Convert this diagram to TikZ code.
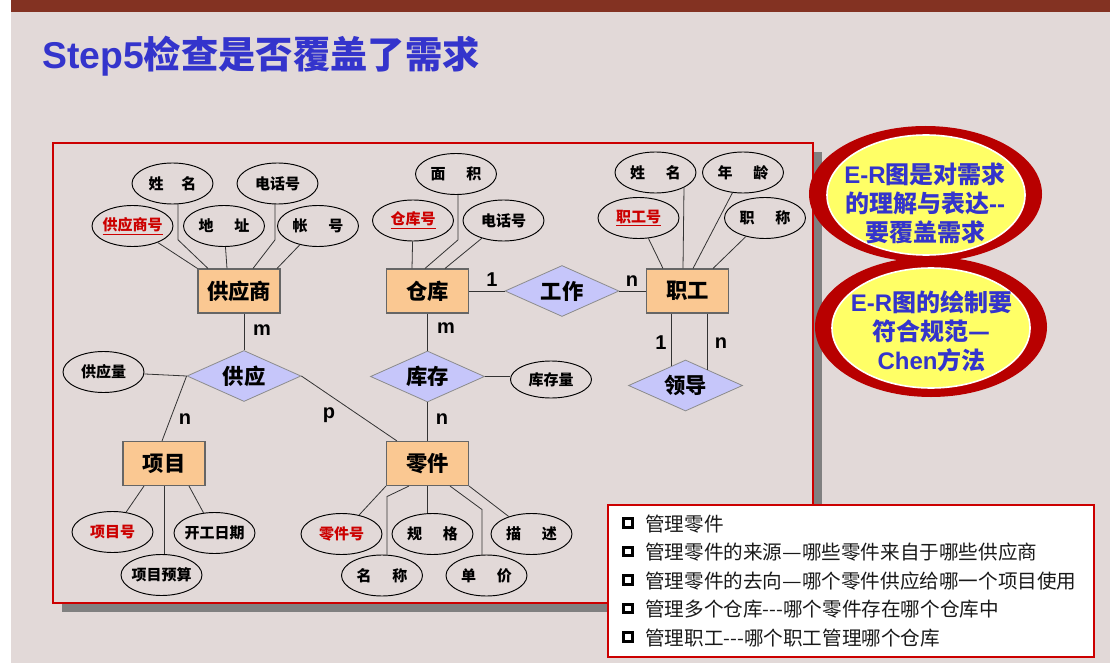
\documentclass[tikz,border=0pt]{standalone}
\usepackage{fontspec}
\setmainfont{Liberation Sans}
\newfontfamily\cjk{Noto Sans CJK SC}
\newfontfamily\lat{Liberation Sans}
\usetikzlibrary{shapes.geometric,calc}

\definecolor{topbar}{RGB}{131,50,34}
\definecolor{bgpaper}{RGB}{226,217,216}
\definecolor{titleblue}{RGB}{52,52,204}
\definecolor{entfill}{RGB}{250,200,146}
\definecolor{relfill}{RGB}{198,198,250}
\definecolor{framered}{RGB}{204,0,0}
\definecolor{bubblered}{RGB}{184,0,0}
\definecolor{bubbleyellow}{RGB}{255,255,102}
\definecolor{keyred}{RGB}{204,0,0}
\definecolor{shadowgray}{RGB}{128,128,128}

% word gap inside two-character attribute names
\newcommand\wsp{\hspace{1.4em}}
% full-width dash in the requirement list
\newcommand\longdash{\makebox[1em][c]{\resizebox{1em}{\height}{—}}}

\tikzset{
  entity/.style={rectangle, draw=black!60, fill=entfill, line width=0.8pt,
    minimum width=61.5pt, minimum height=33pt, inner sep=0,
    font=\cjk\bfseries\fontsize{16}{16}\selectfont},
  rel/.style={diamond, draw=black!45, fill=relfill, line width=0.6pt, aspect=2.2,
    minimum width=85.5pt, minimum height=38.25pt, inner sep=0,
    font=\cjk\bfseries\fontsize{16}{16}\selectfont},
  attr/.style={ellipse, draw=black, line width=0.7pt,
    minimum width=60.75pt, minimum height=30.75pt, inner ysep=0, inner xsep=-2pt,
    font=\cjk\bfseries\fontsize{11.25}{11.25}\selectfont},
  keyattr/.style={attr, text=keyred},
  card/.style={font=\lat\bfseries\fontsize{15}{15}\selectfont, inner sep=0},
  link/.style={draw=black!80, line width=0.6pt},
  frame/.style={draw=framered, line width=1.5pt},
  bubbleout/.style={ellipse, fill=bubblered, inner sep=0},
  bubblein/.style={ellipse, fill=bubbleyellow, draw=white, line width=1.2pt,
    minimum width=148.5pt, minimum height=90pt, inner sep=0},
  bubbletext/.style={align=center, text=titleblue, inner sep=0,
    font=\cjk\bfseries\fontsize{18}{21.75}\selectfont},
  bulletbox/.style={rectangle, draw=black, fill=white, line width=2.1pt,
    minimum size=6.4pt, inner sep=0},
  item/.style={anchor=west, inner sep=0, text=black!90,
    font=\cjk\fontsize{14.7}{14.7}\selectfont},
}

\begin{document}
\begin{tikzpicture}[x=0.75pt, y=-0.75pt]
% page
\useasboundingbox (0,0) rectangle (1110,663);
\fill[white] (0,0) rectangle (1110,663);
\fill[bgpaper] (11,0) rectangle (1110,663);
\fill[topbar] (11,0) rectangle (1110,12.5);

% heading
\node[anchor=west, inner sep=0, text=titleblue, font=\bfseries\fontsize{28}{28}\selectfont]
  (title) at (42,56) {{\lat Step5}{\cjk 检查是否覆盖了需求}};

% diagram panel with drop shadow
\fill[shadowgray] (62,152) rectangle (822,612);
\filldraw[frame, fill=bgpaper] (53,143) rectangle (813,603);

% entities
\node[entity] (gys) at (239,291)   {供应商};
\node[entity] (ck)  at (427.5,291) {仓库};
\node[entity] (zg)  at (687.5,291) {职工};
\node[entity] (xm)  at (164,463.5) {项目};
\node[entity] (lj)  at (427.5,463.5) {零件};

% relationships
\node[rel] (gz) at (562,291)     {工作};
\node[rel] (gy) at (244,376)     {供应};
\node[rel] (kc) at (427.5,376.5) {库存};
\node[rel] (ld) at (685.5,385.5) {领导};

% attributes of 供应商
\node[attr] (a1) at (172.5,183.5) {姓\hspace{1.2em}名};
\node[attr] (a2) at (277.5,183.5) {电话号};
\node[keyattr] (a3) at (132.5,226) {\underline{供应商号}};
\node[attr] (a4) at (224,226) {地\wsp 址};
\node[attr] (a5) at (318,226) {帐\wsp 号};
% attributes of 仓库
\node[attr] (b1) at (456,174) {面\wsp 积};
\node[keyattr] (b2) at (413,220.5) {\underline{仓库号}};
\node[attr] (b3) at (503.5,220.5) {电话号};
% attributes of 职工
\node[attr] (c1) at (655.5,172.5) {姓\wsp 名};
\node[attr] (c2) at (743,172.5) {年\wsp 龄};
\node[keyattr] (c3) at (638.5,218) {\underline{职工号}};
\node[attr] (c4) at (765,218) {职\wsp 称};
% relationship attributes
\node[attr] (gyl) at (103.5,372) {供应量};
\node[attr, minimum height=27.75pt] (kcl) at (551,379.5) {库存量};
% attributes of 项目
\node[keyattr] (d1) at (112.5,532) {项目号};
\node[attr] (d2) at (214.5,533) {开工日期};
\node[attr] (d3) at (161.5,575) {项目预算};
% attributes of 零件
\node[keyattr] (e1) at (341.5,534) {零件号};
\node[attr] (e2) at (432.5,534) {规\wsp 格};
\node[attr] (e3) at (531.5,534) {描\wsp 述};
\node[attr] (e4) at (382,575.5) {名\wsp 称};
\node[attr] (e5) at (486.5,575.5) {单\wsp 价};

% attribute links
\draw[link] (a3) -- (gys.north west);
\draw[link] ($(a1.center)+(5.5,20.3)$) -- ++(0,36) -- ($(gys.north)+(-31,0)$);
\draw[link] (a4) -- ($(gys.north)+(-12,0)$);
\draw[link] ($(a2.center)+(-2.5,20.4)$) -- ++(0,36) -- ($(gys.north)+(14,0)$);
\draw[link] (a5) -- ($(gys.north)+(38,0)$);

\draw[link] (b2) -- ($(ck.north)+(-15.5,0)$);
\draw[link] ($(b1.center)+(2,20.9)$) -- ++(0,45) -- ($(ck.north)+(-2.5,0)$);
\draw[link] (b3) -- ($(ck.north)+(17.5,0)$);

\draw[link] (c3) -- ($(zg.north)+(-24.5,0)$);
\draw[link] ($(c1.center)+(28.5,14.6)$) -- ($(zg.north)+(-4.5,0)$);
\draw[link] (c2) -- ($(zg.north)+(5.5,0)$);
\draw[link] (c4) -- ($(zg.north)+(25.5,0)$);

\draw[link] (d1) -- ($(xm.south)+(-20,0)$);
\draw[link] (xm.south) -- (xm.south |- d3.north);
\draw[link] (d2) -- ($(xm.south)+(25,0)$);

\draw[link] (e1) -- (lj.south west);
\draw[link] ($(e4.north)+(5,0)$) -- ++(0,-58) -- ($(lj.south)+(-18.5,0)$);
\draw[link] (lj.south) -- (lj.south |- e2.north);
\draw[link] ($(e5.north)+(-4.5,0)$) -- ++(0,-45) -- ($(lj.south)+(22.5,0)$);
\draw[link] (e3) -- (lj.south east);

% relationship links
\draw[link] (gys.south -| gy.north) -- (gy.north);
\draw[link] (ck.south) -- (kc.north);
\draw[link] (ck.east) -- (gz.west);
\draw[link] (gz.east) -- (zg.west);
\draw[link] ($(zg.south)+(-16.5,0)$) -- ($(ld.center)+(-14.5,-19.1)$);
\draw[link] ($(zg.south)+(19.5,0)$) -- ($(ld.center)+(21.5,-16)$);
\draw[link] (gyl) -- (gy.west);
\draw[link] (gy.west) -- ($(xm.north)+(-2,0)$);
\draw[link] (gy.east) -- ($(lj.north west)+(11,0)$);
\draw[link] (kc.south) -- (kc.south |- lj.north);
\draw[link] (kc.east) -- (kc.east -| kcl.west);

% cardinalities
\node[card] (m1) at (262,330) {m};
\node[card] (m2) at (446,328) {m};
\node[card] (o1) at (492,280) {1};
\node[card] (n1) at (632,281) {n};
\node[card] (o2) at (661,343) {1};
\node[card] (n2) at (721,343) {n};
\node[card] (n3) at (185,419) {n};
\node[card] (p1) at (329,415) {p};
\node[card] (n4) at (442,419) {n};

% remark bubbles
\node[bubbleout, minimum width=174.75pt, minimum height=102pt] (bo1) at (925.5,194) {};
\node[bubblein] (bi1) at (926,195) {};
\node[bubbletext] (bt1) at (925,203.5)
  {{\lat E-R}图是对需求\\的理解与表达{\lat -{}-}\\要覆盖需求};
\node[bubbleout, minimum width=174pt, minimum height=105pt] (bo2) at (931,327) {};
\node[bubblein] (bi2) at (931,328) {};
\node[bubbletext] (bt2) at (931.5,331)
  {{\lat E-R}图的绘制要\\符合规范—\\{\lat Chen}方法};

% requirement list
\filldraw[frame, fill=white] (608,505) rectangle (1094,657);
\node[bulletbox] (q1) at (628,523) {};
\node[bulletbox] (q2) at (628,551.5) {};
\node[bulletbox] (q3) at (628,580) {};
\node[bulletbox] (q4) at (628,608.5) {};
\node[bulletbox] (q5) at (628,637) {};
\node[item] (t1) at (645,524)   {管理零件};
\node[item] (t2) at (645,552.5) {管理零件的来源\longdash 哪些零件来自于哪些供应商};
\node[item] (t3) at (645,581)   {管理零件的去向\longdash 哪个零件供应给哪一个项目使用};
\node[item] (t4) at (645,609.5) {管理多个仓库-{}-{}-哪个零件存在哪个仓库中};
\node[item] (t5) at (645,638)   {管理职工-{}-{}-哪个职工管理哪个仓库};
\end{tikzpicture}
\end{document}
